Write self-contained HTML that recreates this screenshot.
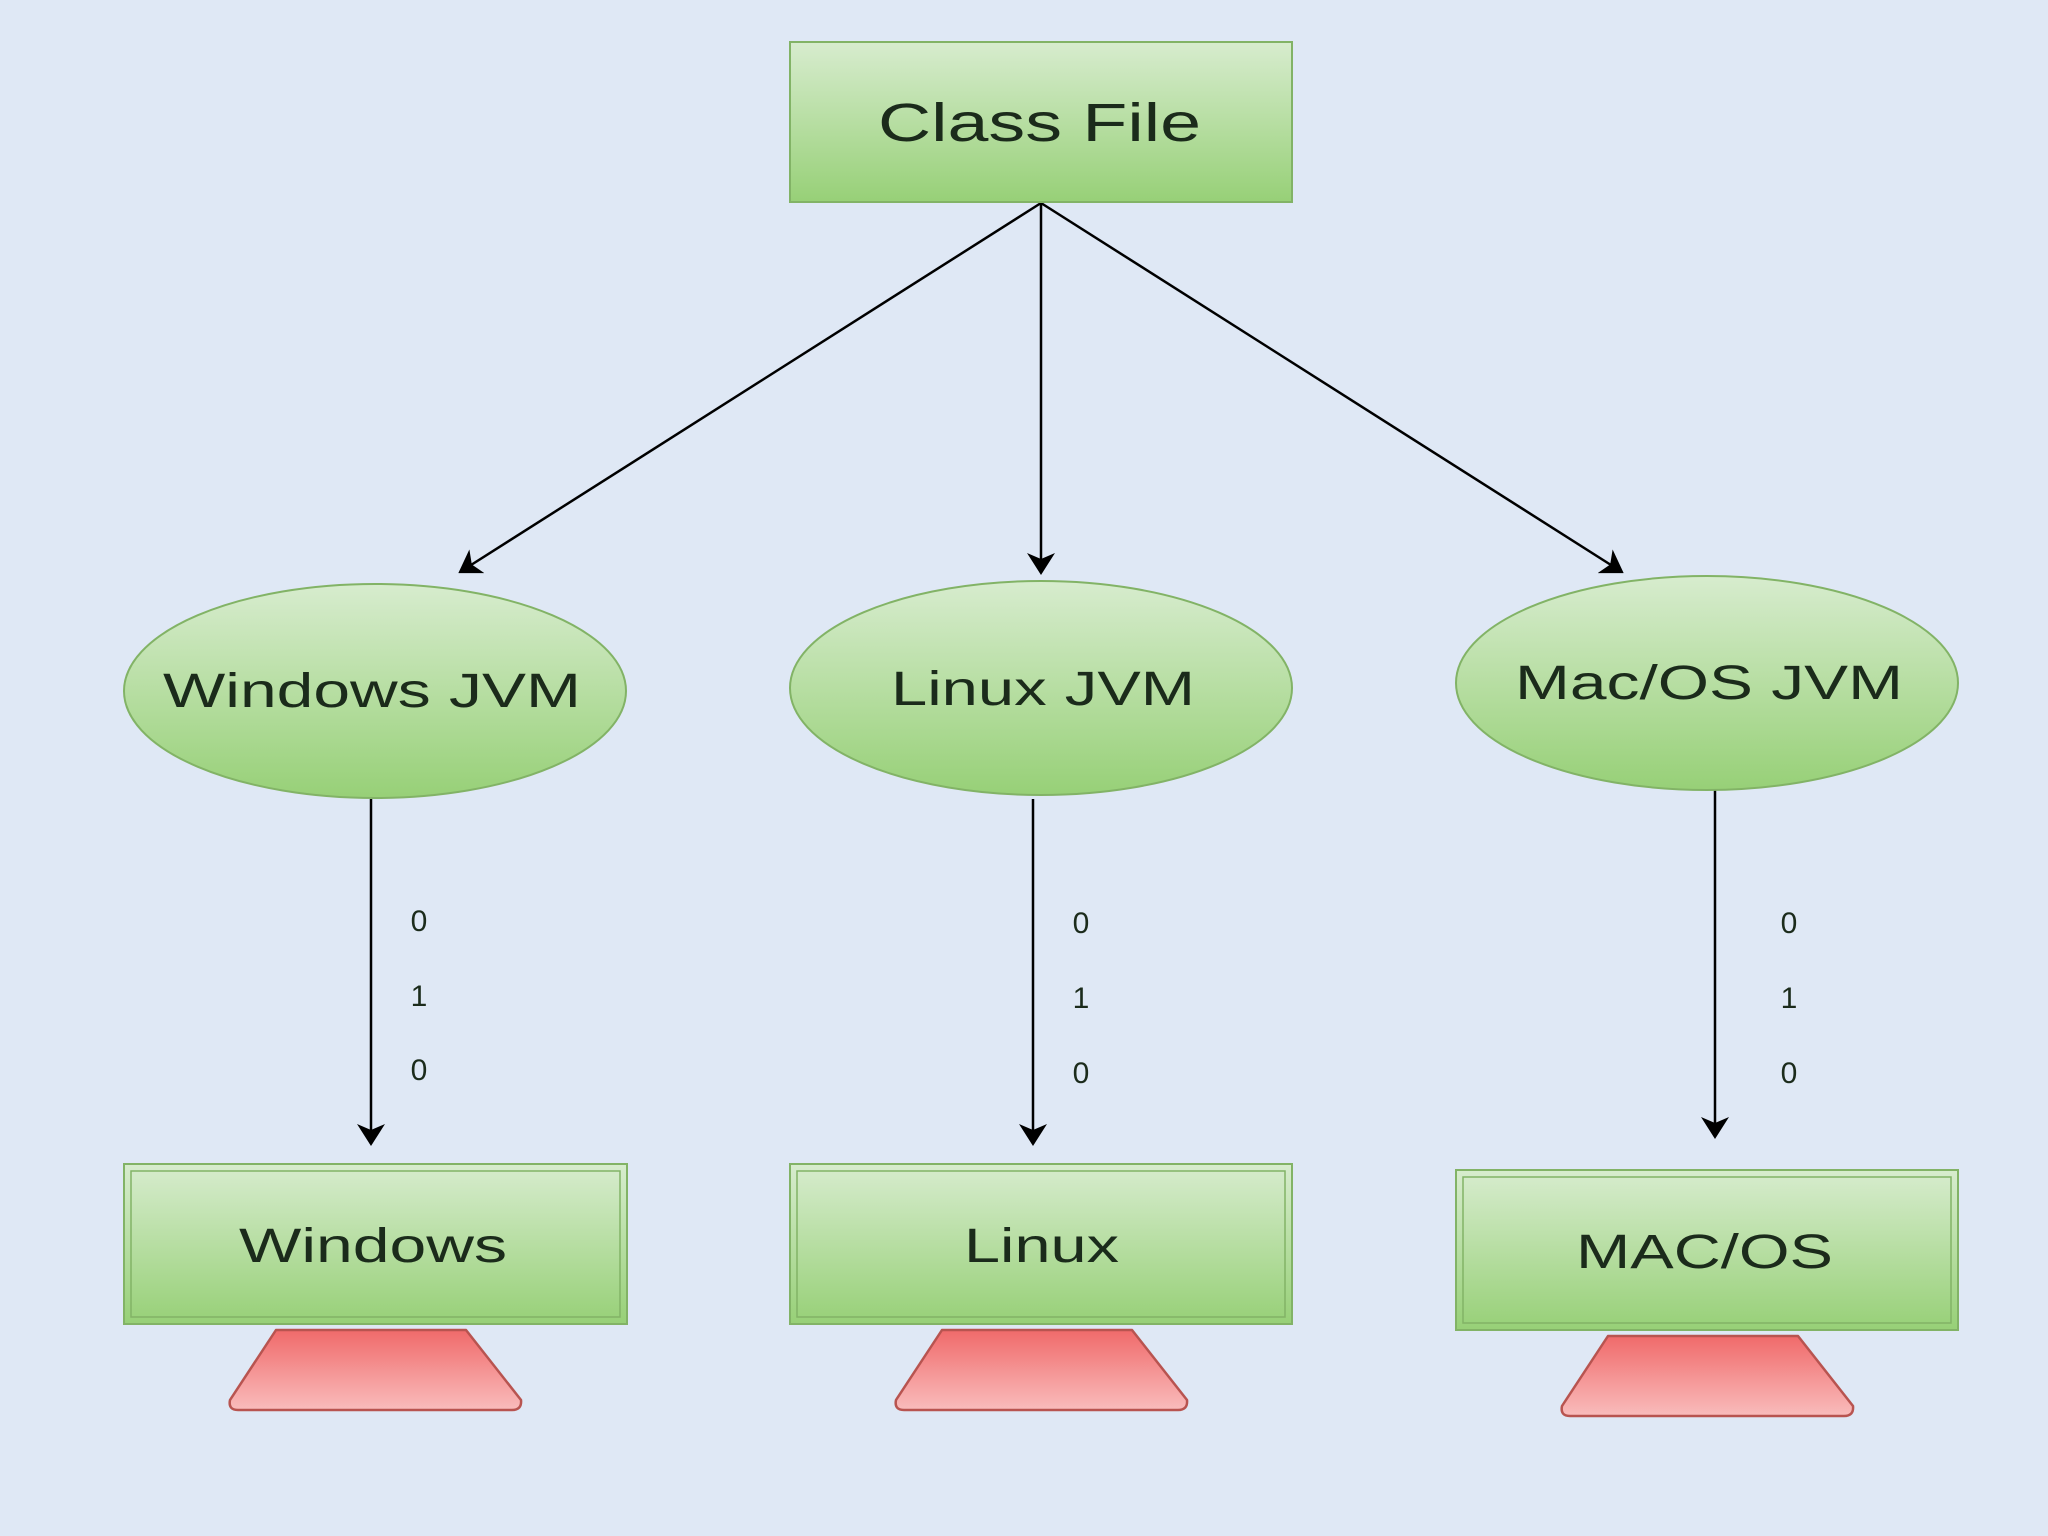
<!DOCTYPE html>
<html><head><meta charset="utf-8"><style>
html,body{margin:0;padding:0;background:#dfe8f5;}
svg{display:block}
text{font-family:"Liberation Sans",sans-serif;fill:#1b2b1b}
</style></head><body>
<svg width="2048" height="1536" viewBox="0 0 2048 1536" xmlns="http://www.w3.org/2000/svg">
<defs>
<linearGradient id="g" x1="0" y1="0" x2="0" y2="1"><stop offset="0" stop-color="#d7ecce"/><stop offset="1" stop-color="#97d077"/></linearGradient>
<linearGradient id="r" x1="0" y1="0" x2="0" y2="1"><stop offset="0" stop-color="#f06a6a"/><stop offset="1" stop-color="#f9bcbc"/></linearGradient>
<marker id="a" markerWidth="22" markerHeight="28" refX="20" refY="14" orient="auto" markerUnits="userSpaceOnUse" viewBox="0 0 22 28"><path d="M0,0 L22,14 L0,28 L6,14 z" fill="#000"/></marker>
</defs>
<rect width="2048" height="1536" fill="#dfe8f5"/>
<g stroke="#000" stroke-width="2.5" fill="none">
<line x1="1041" y1="203" x2="460" y2="572" marker-end="url(#a)"/>
<line x1="1041" y1="203" x2="1041" y2="573" marker-end="url(#a)"/>
<line x1="1041" y1="203" x2="1622" y2="572" marker-end="url(#a)"/>
<line x1="371" y1="799" x2="371" y2="1144" marker-end="url(#a)"/>
<line x1="1033" y1="799" x2="1033" y2="1144" marker-end="url(#a)"/>
<line x1="1715" y1="790" x2="1715" y2="1137" marker-end="url(#a)"/>
</g>
<g stroke="#82b366" stroke-width="2" fill="url(#g)">
<rect x="790" y="42" width="502" height="160"/>
<ellipse cx="375" cy="691" rx="251" ry="107"/>
<ellipse cx="1041" cy="688" rx="251" ry="107"/>
<ellipse cx="1707" cy="683" rx="251" ry="107"/>
<rect x="124" y="1164" width="503" height="160"/>
<rect x="790" y="1164" width="502" height="160"/>
<rect x="1456" y="1170" width="502" height="160"/>
</g>
<g stroke="#82b366" stroke-width="1.5" fill="none">
<rect x="131" y="1171" width="489" height="146"/>
<rect x="797" y="1171" width="488" height="146"/>
<rect x="1463" y="1177" width="488" height="146"/>
</g>
<g stroke="#b85450" stroke-width="2.5" fill="url(#r)" stroke-linejoin="round">
<path d="M276,1330 L466,1330 L521,1400 Q522,1410 512,1410 L238,1410 Q228,1410 230,1400 Z"/>
<path d="M942,1330 L1132,1330 L1187,1400 Q1188,1410 1178,1410 L904,1410 Q894,1410 896,1400 Z"/>
<path d="M1608,1336 L1798,1336 L1853,1406 Q1854,1416 1844,1416 L1570,1416 Q1560,1416 1562,1406 Z"/>
</g>
<text x="878" y="141" font-size="54" textLength="323" lengthAdjust="spacingAndGlyphs">Class File</text>
<g font-size="48" lengthAdjust="spacingAndGlyphs">
<text x="163" y="707" textLength="418" lengthAdjust="spacingAndGlyphs">Windows JVM</text>
<text x="891" y="705" textLength="304" lengthAdjust="spacingAndGlyphs">Linux JVM</text>
<text x="1515" y="699" textLength="388" lengthAdjust="spacingAndGlyphs">Mac/OS JVM</text>
<text x="239" y="1262" textLength="268" lengthAdjust="spacingAndGlyphs">Windows</text>
<text x="964" y="1262" textLength="155" lengthAdjust="spacingAndGlyphs">Linux</text>
<text x="1576" y="1268" textLength="257" lengthAdjust="spacingAndGlyphs">MAC/OS</text>
</g>
<g text-anchor="middle" font-size="30" style="fill:#333">
<text x="419" y="931">0</text><text x="419" y="1006">1</text><text x="419" y="1080">0</text>
<text x="1081" y="933">0</text><text x="1081" y="1008">1</text><text x="1081" y="1083">0</text>
<text x="1789" y="933">0</text><text x="1789" y="1008">1</text><text x="1789" y="1083">0</text>
</g>
</svg>
</body></html>
